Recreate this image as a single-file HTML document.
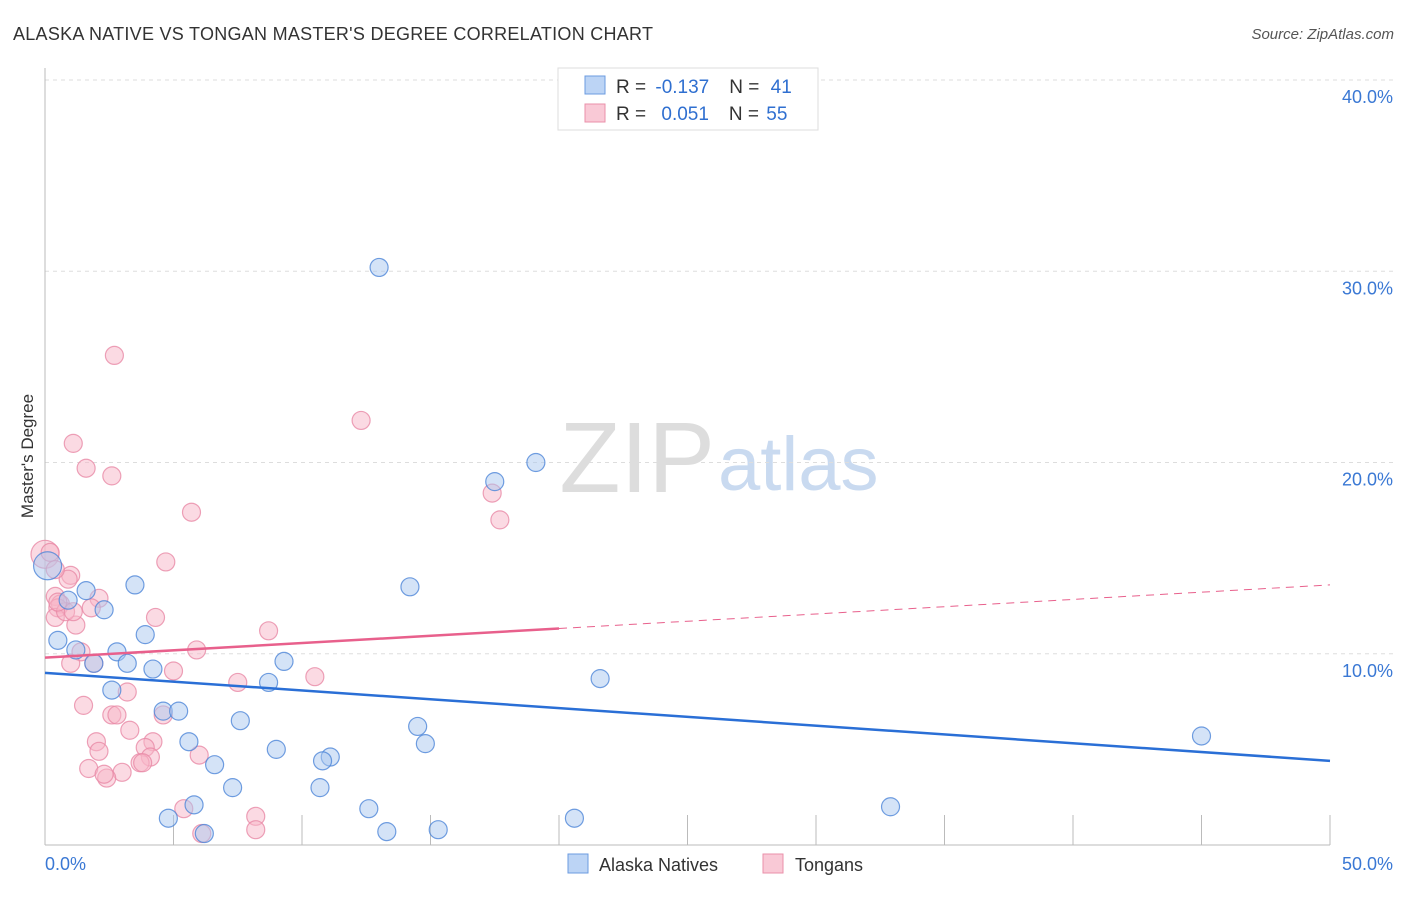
<!DOCTYPE html>
<html><head><meta charset="utf-8"><style>
body{margin:0;background:#fff;font-family:"Liberation Sans",sans-serif;}
svg text{font-family:"Liberation Sans",sans-serif;}
</style></head><body>
<svg id="chart" width="1406" height="892" viewBox="0 0 1406 892" xmlns="http://www.w3.org/2000/svg">
<text x="13" y="40" font-size="18" fill="#333" textLength="640">ALASKA NATIVE VS TONGAN MASTER'S DEGREE CORRELATION CHART</text>
<text x="1394" y="39" font-size="15" fill="#555" text-anchor="end" font-style="italic">Source: ZipAtlas.com</text>
<text x="715" y="492" font-size="100" fill="#ddd" text-anchor="end" font-family="Liberation Serif">ZIP</text>
<text x="718" y="490" font-size="76" fill="#c9daf0">atlas</text>
<g id="grid"></g>
<line x1="45" y1="68" x2="45" y2="845" stroke="#bbb"/>
<line x1="45" y1="845" x2="1330" y2="845" stroke="#bbb"/>
<text transform="translate(33,456) rotate(-90)" font-size="17" fill="#333" text-anchor="middle">Master's Degree</text>
<g id="ticks"></g>
<g id="pts"></g>
<g id="lines"></g>
<g>
<rect x="558" y="68" width="260" height="62" fill="#fff" stroke="#ddd"/>
<rect x="585" y="76" width="20" height="18" fill="#bcd4f5" stroke="#6b9be0"/>
<rect x="585" y="104" width="20" height="18" fill="#f9c9d6" stroke="#ea90aa"/>
<text x="616" y="93" font-size="19" fill="#333">R = <tspan fill="#2f6fd0" dx="4">-0.137</tspan><tspan dx="20">N = </tspan><tspan fill="#2f6fd0" dx="6">41</tspan></text>
<text x="616" y="120" font-size="19" fill="#333">R = <tspan fill="#2f6fd0" dx="10">0.051</tspan><tspan dx="20">N = </tspan><tspan fill="#2f6fd0" dx="2">55</tspan></text>
</g>
<g>
<rect x="568" y="854" width="20" height="19" fill="#bcd4f5" stroke="#6b9be0"/>
<text x="599" y="871" font-size="18" fill="#333">Alaska Natives</text>
<rect x="763" y="854" width="20" height="19" fill="#f9c9d6" stroke="#ea90aa"/>
<text x="795" y="871" font-size="18" fill="#333">Tongans</text>
</g>
</svg>
<script>
const yTicks=[10,20,30,40];
const yTickLabels=["10.0%","20.0%","30.0%","40.0%"];
const xTickLabels=["0.0%","50.0%"];
const blueX=[0.1,13.0,19.1,17.5,14.2,3.5,1.6,0.9,2.3,0.5,3.9,1.2,2.8,1.9,3.2,4.2,9.3,21.6,2.6,8.7,4.6,5.2,7.6,14.5,5.6,14.8,9.0,6.6,11.1,10.8,7.3,10.7,5.8,12.6,32.9,4.8,20.6,6.2,13.3,15.3,45.0];
const blueY=[14.6,30.2,20.0,19.0,13.5,13.6,13.3,12.8,12.3,10.7,11.0,10.2,10.1,9.5,9.5,9.2,9.6,8.7,8.1,8.5,7.0,7.0,6.5,6.2,5.4,5.3,5.0,4.2,4.6,4.4,3.0,3.0,2.1,1.9,2.0,1.4,1.4,0.6,0.7,0.8,5.7];
const pinkX=[0.0,0.2,2.7,12.3,1.1,1.6,2.6,5.7,17.4,17.7,4.7,1.0,0.9,0.4,0.6,0.5,2.1,1.8,1.2,0.4,0.8,4.3,8.7,5.9,1.4,1.0,1.9,5.0,10.5,7.5,3.2,1.5,2.6,3.3,2.0,4.2,3.9,6.0,2.1,4.1,3.7,1.7,3.0,2.4,5.4,8.2,8.2,6.1,0.4,0.5,4.6,1.1,2.3,3.8,2.8];
const pinkY=[15.2,15.3,25.6,22.2,21.0,19.7,19.3,17.4,18.4,17.0,14.8,14.1,13.9,13.0,12.6,12.4,12.9,12.4,11.5,11.9,12.2,11.9,11.2,10.2,10.1,9.5,9.5,9.1,8.8,8.5,8.0,7.3,6.8,6.0,5.4,5.4,5.1,4.7,4.9,4.6,4.3,4.0,3.8,3.5,1.9,1.5,0.8,0.6,14.4,12.7,6.8,12.2,3.7,4.3,6.8];
const blueTrend=[9.0,4.4];
const pinkTrend=[9.8,13.6];
const pinkSolidEnd=20;
const X=v=>45+v*25.7, Y=v=>845-v*19.125;
const NS="http://www.w3.org/2000/svg";
function mk(t,a,p){const e=document.createElementNS(NS,t);for(const k in a)e.setAttribute(k,a[k]);document.getElementById(p).appendChild(e);return e;}
yTicks.forEach((t,i)=>{
 const l=mk('line',{x1:45,x2:1394,y1:Y(t),y2:Y(t),stroke:'#ddd','stroke-dasharray':'4,4'},'grid');
 
 
 const tx=mk('text',{x:1393,y:Y(t)+23,'font-size':18,fill:'#3a78d4','text-anchor':'end'},'ticks');tx.textContent=yTickLabels[i];
 
 
});
for(let i=1;i<=10;i++){const l=mk('line',{x1:X(i*5),x2:X(i*5),y1:815,y2:845,stroke:'#bbb'},'ticks');
 
 }
[[0,45,'start'],[50,1393,'end']].forEach((d,i)=>{const t=mk('text',{x:d[1],y:870,'font-size':18,fill:'#3a78d4','text-anchor':d[2]},'ticks');t.textContent=xTickLabels[i];
 
 });
function pts(xs,ys,fill,stroke,name){xs.forEach((x,i)=>{const big=i===0;const c=mk('circle',{cx:X(x),cy:Y(ys[i]),r:big?14:9,fill:fill,'fill-opacity':0.5,stroke:stroke,'stroke-width':1.2,'stroke-opacity':0.8},'pts');
 
 });}
pts(pinkX,pinkY,'#f7b6c8','#e98aa6','tongan-point');
pts(blueX,blueY,'#a9c8f0','#4d86d8','alaska-native-point');
const bl=mk('line',{x1:X(0),y1:Y(blueTrend[0]),x2:X(50),y2:Y(blueTrend[1]),stroke:'#2a6fd6','stroke-width':2.5},'lines');


const pm=pinkTrend[0]+(pinkTrend[1]-pinkTrend[0])*pinkSolidEnd/50;
const p1=mk('line',{x1:X(0),y1:Y(pinkTrend[0]),x2:X(pinkSolidEnd),y2:Y(pm),stroke:'#e8608c','stroke-width':2.5},'lines');


const p2=mk('line',{x1:X(pinkSolidEnd),y1:Y(pm),x2:X(50),y2:Y(pinkTrend[1]),stroke:'#e8608c','stroke-width':1,'stroke-dasharray':'8,6'},'lines');


</script>
</body></html>
